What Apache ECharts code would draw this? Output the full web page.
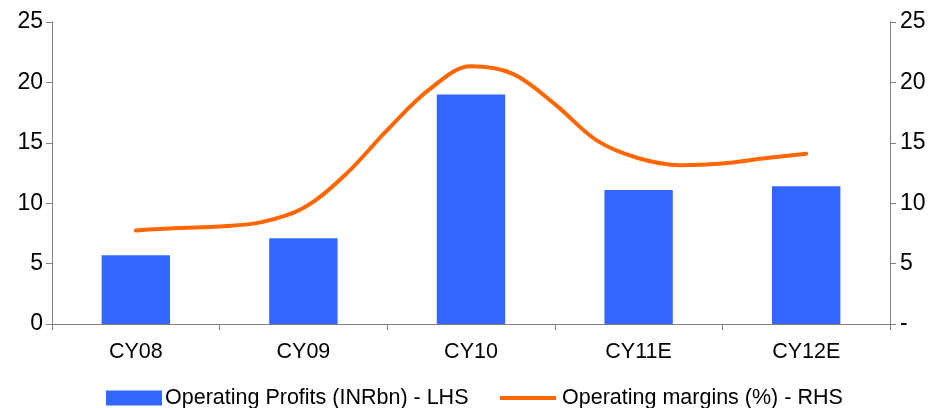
<!DOCTYPE html>
<html>
<head>
<meta charset="utf-8">
<script src="https://cdn.jsdelivr.net/npm/echarts@6/dist/echarts.min.js"></script>
<style>
  html, body { margin: 0; padding: 0; background: #ffffff; }
  #chart { width: 942px; height: 408px; }
</style>
</head>
<body>
<div id="chart"></div>
<script>
// Years on the category axis
const years = ['CY08', 'CY09', 'CY10', 'CY11E', 'CY12E'];

// Operating profits, INR bn (left axis)
const operatingProfits = [5.7, 7.1, 19.0, 11.1, 11.4];

// Operating margin, %, sampled every quarter of a year (right axis)
const marginYearIndex = [0, 0.25, 0.5, 0.75, 1, 1.25, 1.5, 1.75, 2, 2.25, 2.5, 2.75, 3, 3.25, 3.5, 3.75, 4];
const operatingMargins = [7.75, 7.95, 8.07, 8.43, 9.6, 12.35, 16.05, 19.4, 21.33, 20.7, 18.2, 15.2, 13.72, 13.15, 13.29, 13.72, 14.1];

// Axis tick values
const axisTicks = [0, 5, 10, 15, 20, 25];

const barName = 'Operating Profits (INRbn) - LHS';
const lineName = 'Operating margins (%) - RHS';

const FONT = 'Liberation Sans, Arial, sans-serif';
const AXIS_GREY = '#808080';
const TEXT = '#000000';
const BAR_BLUE = '#3366FF';
const LINE_ORANGE = '#FF6600';

const chart = echarts.init(document.getElementById('chart'), null, { renderer: 'canvas' });

const marginPoints = marginYearIndex.map((x, i) => [x, operatingMargins[i]]);

const yAxisBase = {
  type: 'value',
  min: axisTicks[0],
  max: axisTicks[axisTicks.length - 1],
  interval: axisTicks[1] - axisTicks[0],
  splitLine: { show: false },
  axisLine: { show: true, onZero: false, lineStyle: { color: AXIS_GREY, width: 1 } },
  axisTick: { show: true, inside: false, length: 6, lineStyle: { color: AXIS_GREY } }
};

chart.setOption({
  animation: false,
  backgroundColor: '#ffffff',
  textStyle: { fontFamily: FONT },
  grid: { left: 52, right: 52, top: 22, bottom: 84, containLabel: false },
  legend: [
    {
      data: [{ name: barName, icon: 'rect' }],
      left: 106,
      top: 387,
      itemWidth: 56,
      itemHeight: 15,
      itemGap: 0,
      textStyle: { color: TEXT, fontSize: 21.5, fontFamily: FONT, padding: [0, 0, 0, -2] },
      padding: 0,
      selectedMode: false
    },
    {
      data: [{ name: lineName, icon: 'rect' }],
      left: 500,
      top: 387,
      itemWidth: 56,
      itemHeight: 4,
      itemGap: 0,
      itemStyle: { color: LINE_ORANGE },
      textStyle: { color: TEXT, fontSize: 21.5, fontFamily: FONT, padding: [0, 0, 0, 1] },
      padding: 0,
      selectedMode: false
    }
  ],
  xAxis: [
    {
      type: 'category',
      data: years,
      boundaryGap: true,
      axisLine: { show: true, lineStyle: { color: AXIS_GREY, width: 1 } },
      axisTick: { show: true, inside: false, length: 6, alignWithLabel: false, lineStyle: { color: AXIS_GREY } },
      axisLabel: { color: TEXT, fontSize: 21.5, fontFamily: FONT, margin: 17 },
      splitLine: { show: false }
    },
    {
      type: 'value',
      min: -0.5,
      max: 4.5,
      show: false,
      splitLine: { show: false }
    }
  ],
  yAxis: [
    Object.assign({}, yAxisBase, {
      position: 'left',
      axisLabel: { color: TEXT, fontSize: 23, fontFamily: FONT, margin: 9 }
    }),
    Object.assign({}, yAxisBase, {
      position: 'right',
      axisLabel: {
        color: TEXT, fontSize: 23, fontFamily: FONT, margin: 10,
        formatter: (v) => (v === 0 ? '-' : String(v))
      }
    })
  ],
  series: [
    {
      name: barName,
      type: 'bar',
      xAxisIndex: 0,
      yAxisIndex: 0,
      data: operatingProfits,
      barWidth: '40.8%',
      itemStyle: { color: BAR_BLUE }
    },
    {
      name: lineName,
      type: 'line',
      xAxisIndex: 1,
      yAxisIndex: 1,
      data: marginPoints,
      smooth: 0.35,
      symbol: 'none',
      lineStyle: { color: LINE_ORANGE, width: 4, cap: 'round', join: 'round' },
      itemStyle: { color: LINE_ORANGE }
    }
  ]
});
</script>
</body>
</html>
